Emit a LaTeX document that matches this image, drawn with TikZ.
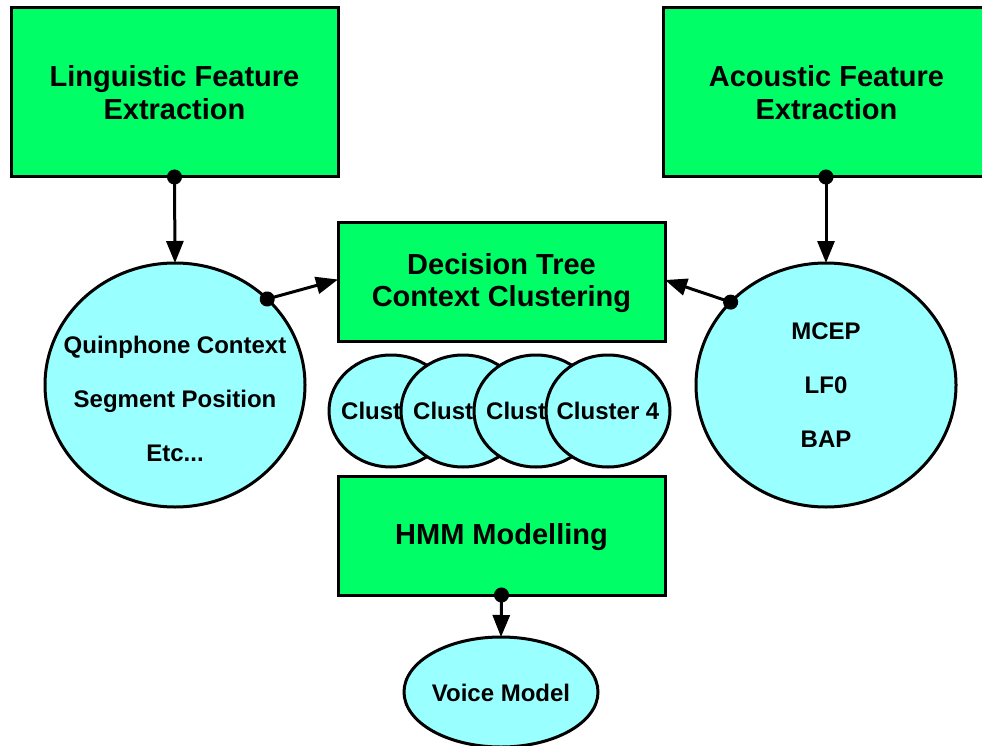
\documentclass[tikz,border=0pt]{standalone}
\usepackage{fontspec}
\setmainfont{Liberation Sans}
\usetikzlibrary{shapes.geometric,arrows.meta}
\definecolor{boxgreen}{HTML}{00FF66}
\definecolor{bubble}{HTML}{99FFFF}
\begin{document}
\begin{tikzpicture}[x=1pt,y=-1pt,
  stagebox/.style={draw=black,fill=boxgreen,line width=3pt,rectangle,
    outer sep=0pt,inner sep=0pt,align=center,
    font=\fontsize{29}{32.5}\selectfont\bfseries},
  stagetext/.style={inner sep=0pt,align=center,
    font=\fontsize{29}{32.5}\selectfont\bfseries},
  bubblenode/.style={draw=black,fill=bubble,line width=3pt,ellipse,
    outer sep=0pt,inner sep=0pt},
  bubbletext/.style={align=center,inner sep=0pt,
    font=\fontsize{24}{54}\selectfont\bfseries},
  clusternode/.style={bubblenode,minimum width=124pt,minimum height=112pt},
  clustertext/.style={inner sep=0pt,font=\fontsize{24}{28}\selectfont\bfseries},
  link/.style={line width=3pt,
    {Circle[length=15pt,width=15pt]}-{Triangle[length=22pt,width=17pt]},
    shorten <=-7.5pt}
]
\useasboundingbox (0,0) rectangle (982,746);

% processing stages
\node[stagebox,minimum width=327pt,minimum height=169pt] (ling) at (174.5,92.5)
  {Linguistic Feature\\Extraction};
\node[stagebox,minimum width=327pt,minimum height=169pt] (acou) at (826.5,92.5)
  {Acoustic Feature\\Extraction};
\node[stagebox,minimum width=327pt,minimum height=119pt] (dt) at (501.5,281.5) {};
\node[stagetext] (dtt) at (501.5,283) {Decision Tree\\Context Clustering};
\node[stagebox,minimum width=327pt,minimum height=119pt] (hmm) at (501.5,535.5) {};
\node[stagetext] (hmmt) at (501.5,537) {HMM Modelling};

% feature bubbles
\node[bubblenode,minimum width=260pt,minimum height=244pt] (lq) at (175,385) {};
\node[bubbletext] (lqt) at (175,399)
  {Quinphone Context\\Segment Position\\Etc...};
\node[bubblenode,minimum width=260pt,minimum height=244pt] (rq) at (826,385) {};
\node[bubbletext] (rqt) at (826,385) {MCEP\\LF0\\BAP};

% clusters, each one laid over the previous
\node[clusternode] (c1) at (391,411) {};
\node[clustertext,anchor=west] (c1t) at (341,411) {Clust};
\node[clusternode] (c2) at (463,411) {};
\node[clustertext,anchor=west] (c2t) at (413,411) {Clust};
\node[clusternode] (c3) at (536,411) {};
\node[clustertext,anchor=west] (c3t) at (486,411) {Clust};
\node[clusternode] (c4) at (608,411) {};
\node[clustertext] (c4t) at (608,411) {Cluster 4};

% output
\node[bubblenode,minimum width=194pt,minimum height=110pt] (vm) at (501,692) {};
\node[clustertext] (vmt) at (501,693) {Voice Model};

% connectors
\draw[link] (ling.south) -- (lq.north);
\draw[link] (acou.south -| rq.north) -- (rq.north);
\draw[link] (lq.43) -- ([yshift=2pt]dt.west);
\draw[link] (rq.139) -- ([yshift=1.5pt]dt.east);
\draw[link] (hmm.south) -- (vm.north);
\end{tikzpicture}
\end{document}
